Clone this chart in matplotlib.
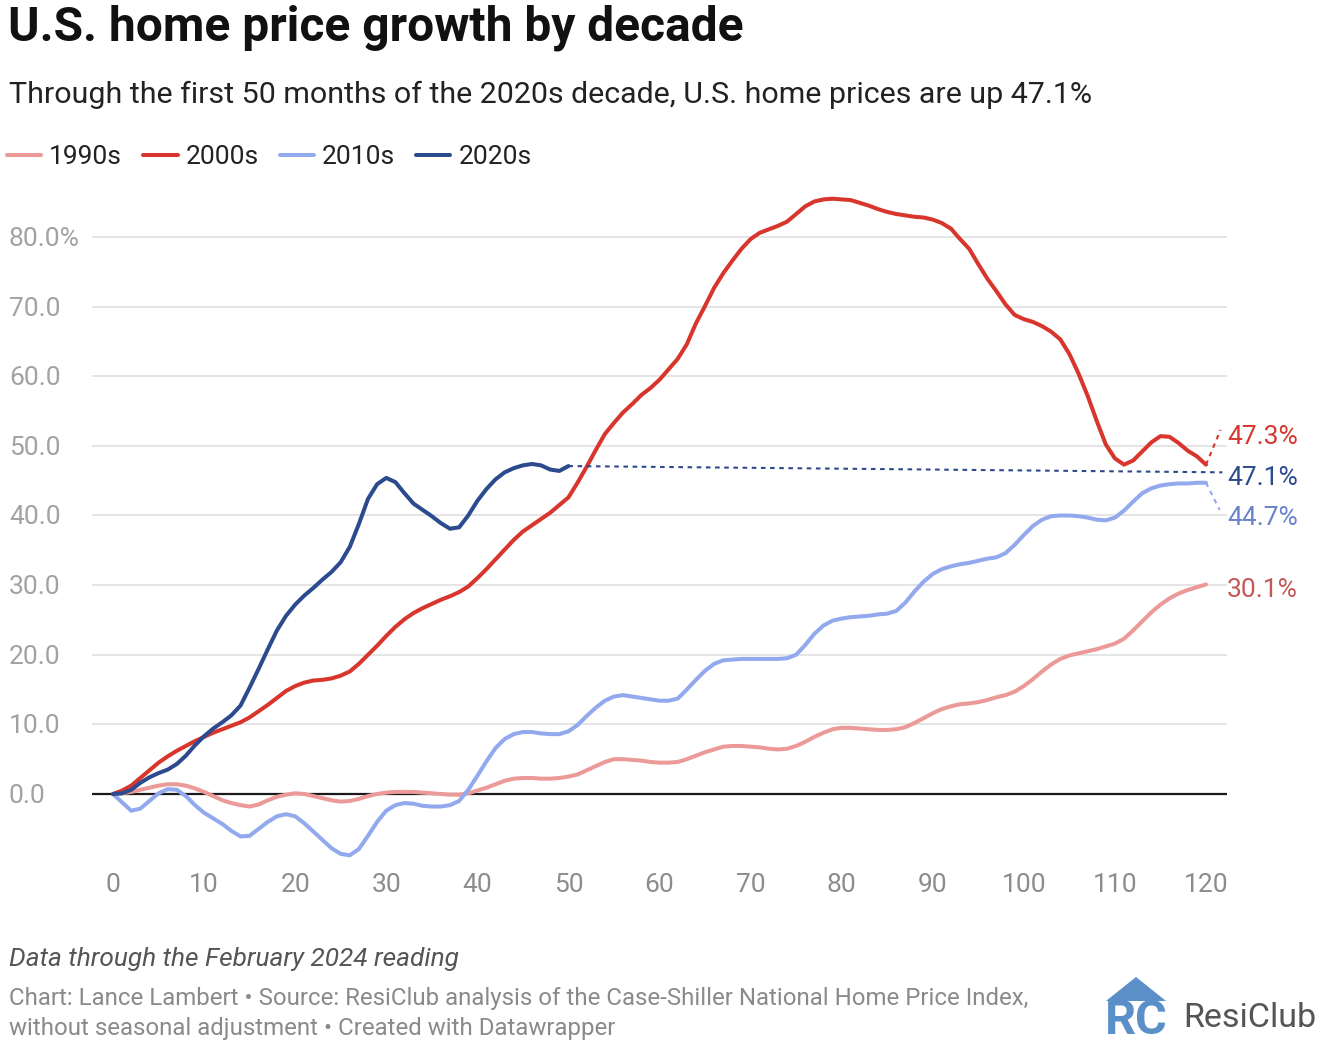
import matplotlib
matplotlib.use("Agg")
import matplotlib.pyplot as plt
from matplotlib.patches import Polygon
import numpy as np

plt.rcParams['font.family'] = ['Roboto', 'DejaVu Sans']

# ---------------- data ----------------
months_full = list(range(0, 121))
months_2020s = list(range(0, 51))

s1990s = [0, 0.1, 0.3, 0.6, 0.9, 1.2, 1.4, 1.4, 1.2, 0.8, 0.3, -0.3, -0.9, -1.3, -1.6, -1.8, -1.5, -0.9, -0.4, -0.1,
          0.1, 0.0, -0.3, -0.6, -0.9, -1.1, -1.0, -0.7, -0.3, 0.0, 0.2, 0.3, 0.3, 0.3, 0.2, 0.1, 0.0, -0.1, -0.1, 0.1,
          0.5, 0.9, 1.4, 1.9, 2.2, 2.3, 2.3, 2.2, 2.2, 2.3, 2.5, 2.8, 3.4, 4.0, 4.6, 5.0, 5.0, 4.9, 4.8, 4.6,
          4.5, 4.5, 4.6, 5.0, 5.5, 6.0, 6.4, 6.8, 6.9, 6.9, 6.8, 6.7, 6.5, 6.4, 6.5, 6.9, 7.5, 8.2, 8.8, 9.3,
          9.5, 9.5, 9.4, 9.3, 9.2, 9.2, 9.3, 9.6, 10.2, 10.9, 11.6, 12.2, 12.6, 12.9, 13.0, 13.2, 13.5, 13.9, 14.2, 14.7,
          15.5, 16.5, 17.6, 18.6, 19.4, 19.9, 20.2, 20.5, 20.8, 21.2, 21.6, 22.3, 23.5, 24.8, 26.1, 27.2, 28.1, 28.8, 29.3, 29.7,
          30.1]

s2000s = [0, 0.5, 1.2, 2.3, 3.4, 4.5, 5.4, 6.2, 6.9, 7.6, 8.2, 8.8, 9.3, 9.8, 10.3, 11.0, 11.9, 12.8, 13.8, 14.8,
          15.5, 16.0, 16.3, 16.4, 16.6, 17.0, 17.6, 18.7, 20.0, 21.3, 22.7, 24.0, 25.1, 26.0, 26.7, 27.3, 27.9, 28.4, 29.0, 29.8,
          31.0, 32.3, 33.7, 35.1, 36.5, 37.7, 38.6, 39.5, 40.4, 41.5, 42.6, 44.7, 47.0, 49.4, 51.7, 53.3, 54.8, 56.0, 57.3, 58.3,
          59.5, 61.0, 62.5, 64.6, 67.6, 70.1, 72.7, 74.8, 76.6, 78.3, 79.7, 80.6, 81.1, 81.6, 82.2, 83.3, 84.4, 85.1, 85.4, 85.5,
          85.4, 85.3, 84.9, 84.5, 84.0, 83.6, 83.3, 83.1, 82.9, 82.8, 82.5, 82.0, 81.2, 79.7, 78.3, 76.1, 74.0, 72.2, 70.3, 68.8,
          68.2, 67.8, 67.2, 66.4, 65.3, 63.2, 60.4, 57.2, 53.6, 50.2, 48.2, 47.3, 47.9, 49.2, 50.5, 51.4, 51.3, 50.4, 49.3, 48.5,
          47.3]

s2010s = [0, -1.2, -2.4, -2.1, -1.0, 0.1, 0.7, 0.6, -0.3, -1.6, -2.7, -3.5, -4.3, -5.3, -6.1, -6.0, -5.0, -4.0, -3.2, -2.9,
          -3.2, -4.2, -5.4, -6.6, -7.8, -8.6, -8.8, -7.9, -6.0, -4.0, -2.4, -1.6, -1.3, -1.4, -1.7, -1.8, -1.8, -1.6, -1.0, 0.6,
          2.6, 4.7, 6.6, 7.9, 8.6, 8.9, 8.9, 8.7, 8.6, 8.6, 9.0, 9.9, 11.2, 12.4, 13.4, 14.0, 14.2, 14.0, 13.8, 13.6,
          13.4, 13.4, 13.7, 15.0, 16.4, 17.7, 18.7, 19.2, 19.3, 19.4, 19.4, 19.4, 19.4, 19.4, 19.5, 20.0, 21.4, 23.0, 24.2, 24.9,
          25.2, 25.4, 25.5, 25.6, 25.8, 25.9, 26.3, 27.5, 29.1, 30.5, 31.6, 32.3, 32.7, 33.0, 33.2, 33.5, 33.8, 34.0, 34.6, 35.8,
          37.2, 38.5, 39.4, 39.9, 40.0, 40.0, 39.9, 39.7, 39.4, 39.3, 39.7, 40.7, 42.0, 43.2, 43.9, 44.3, 44.5, 44.6, 44.6, 44.7,
          44.7]

s2020s = [0, 0.1, 0.6, 1.6, 2.4, 3.0, 3.5, 4.3, 5.5, 7.0, 8.3, 9.4, 10.3, 11.3, 12.7, 15.3, 18.0, 20.8, 23.5, 25.6,
          27.2, 28.5, 29.6, 30.8, 31.9, 33.3, 35.5, 38.8, 42.4, 44.5, 45.4, 44.8, 43.2, 41.7, 40.8, 39.9, 38.9, 38.1, 38.3, 40.0,
          42.1, 43.8, 45.2, 46.2, 46.8, 47.2, 47.4, 47.2, 46.6, 46.4, 47.1]

series_names = ["1990s", "2000s", "2010s", "2020s"]
line_colors = ["#eb9a98", "#d8352d", "#92a9ee", "#2c4a8e"]
label_colors = ["#c35a58", "#d8352d", "#6a82cc", "#2c4a8e"]
end_labels = ["30.1%", "47.3%", "44.7%", "47.1%"]

y_ticks = [0, 10, 20, 30, 40, 50, 60, 70, 80]
y_tick_labels = ["0.0", "10.0", "20.0", "30.0", "40.0", "50.0", "60.0", "70.0", "80.0%"]
x_ticks = [0, 10, 20, 30, 40, 50, 60, 70, 80, 90, 100, 110, 120]

# ---------------- figure ----------------
W, H = 1330, 1056
fig = plt.figure(figsize=(W / 100, H / 100), dpi=100)

def fx(px):
    return px / W

def fy(py):
    return 1 - py / H

# axes: month 0 at px 113, month 120 at px 1206 ; value 0 at px 794, 80 at px 237
xpx0, xscale = 113.0, (1206 - 113) / 120.0
ypx0, yscale = 794.0, (794 - 237) / 80.0
xmin, xmax = -2.3, 122.3
ymin, ymax = -10.0, 87.0
left_px = xpx0 + xmin * xscale
right_px = xpx0 + xmax * xscale
bottom_px = ypx0 - ymin * yscale
top_px = ypx0 - ymax * yscale
ax = fig.add_axes([fx(left_px), fy(bottom_px), (right_px - left_px) / W, (bottom_px - top_px) / H])
ax.set_xlim(xmin, xmax)
ax.set_ylim(ymin, ymax)
ax.axis('off')

# grid lines
for v in y_ticks[1:]:
    ax.axhline(v, color="#e3e3e3", lw=1.3, zorder=1)
ax.axhline(0, color="#1a1a1a", lw=1.6, zorder=2)

# series
lw = 2.9
l90, = ax.plot(months_full, s1990s, color=line_colors[0], lw=lw, zorder=3, solid_capstyle='round', label=series_names[0])
l00, = ax.plot(months_full, s2000s, color=line_colors[1], lw=lw, zorder=5, solid_capstyle='round', label=series_names[1])
l10, = ax.plot(months_full, s2010s, color=line_colors[2], lw=lw, zorder=4, solid_capstyle='round', label=series_names[2])
l20, = ax.plot(months_2020s, s2020s, color=line_colors[3], lw=lw, zorder=6, solid_capstyle='round', label=series_names[3])

# connectors (dotted) to end labels
ax.plot([months_2020s[-1], 121.8], [s2020s[-1], 46.2], color=line_colors[3], lw=1.5, ls=(0, (2.2, 2.2)), zorder=6)
ax.plot([months_full[-1], 121.6], [s2000s[-1], 52.3], color=line_colors[1], lw=1.5, ls=(0, (2.2, 2.2)), zorder=6)
ax.plot([months_full[-1], 121.5], [s2010s[-1], 40.8], color=line_colors[2], lw=1.5, ls=(0, (2.2, 2.2)), zorder=6)

# end labels
lab_fs = 19
label_y_px = [590, 437, 518, 478]
for txt, col, py in zip(end_labels, label_colors, label_y_px):
    fig.text(fx(1227), fy(py), txt, color=col, fontsize=lab_fs, va='center', ha='left')

# y tick labels
for v, t in zip(y_ticks, y_tick_labels):
    fig.text(fx(9), fy(ypx0 - v * yscale + 2), t, color="#a2a2a2", fontsize=19, va='center', ha='left')

# x tick labels
for m in x_ticks:
    fig.text(fx(xpx0 + m * xscale), fy(885), str(m), color="#8c8c8c", fontsize=19, va='center', ha='center')

# title & subtitle
fig.text(fx(8), fy(28), "U.S. home price growth by decade", fontsize=34.5, fontweight='bold', color="#111111", va='center', ha='left')
fig.text(fx(9), fy(95), "Through the first 50 months of the 2020s decade, U.S. home prices are up 47.1%",
         fontsize=21.9, color="#222222", va='center', ha='left')

# legend
leg = fig.legend(handles=[l90, l00, l10, l20], labels=series_names, loc='center left',
                 bbox_to_anchor=(fx(7), fy(157)), ncol=4, frameon=False, fontsize=19,
                 handlelength=1.3, handletextpad=0.3, columnspacing=0.8, borderpad=0, borderaxespad=0)
for t in leg.get_texts():
    t.set_color("#222222")

# footer
fig.text(fx(9), fy(959), "Data through the February 2024 reading", fontsize=18.9, fontstyle='italic',
         color="#555555", va='center', ha='left')
fig.text(fx(9), fy(999), "Chart: Lance Lambert \u2022 Source: ResiClub analysis of the Case-Shiller National Home Price Index,",
         fontsize=17.3, color="#8a8a8a", va='center', ha='left')
fig.text(fx(9), fy(1028), "without seasonal adjustment \u2022 Created with Datawrapper",
         fontsize=17.3, color="#8a8a8a", va='center', ha='left')

# logo
logo_blue = "#5b8fc7"
roof = Polygon([[fx(1106), fy(1001)], [fx(1136), fy(977)], [fx(1166), fy(1001)]], closed=True,
               transform=fig.transFigure, facecolor=logo_blue, edgecolor='none')
fig.add_artist(roof)
fig.text(fx(1136), fy(1021), "RC", fontsize=35, fontweight='bold', color=logo_blue, va='center', ha='center')
fig.text(fx(1183), fy(1018), "ResiClub", fontsize=24.5, color="#555555", va='center', ha='left')

fig.savefig("out.png", dpi=100)
